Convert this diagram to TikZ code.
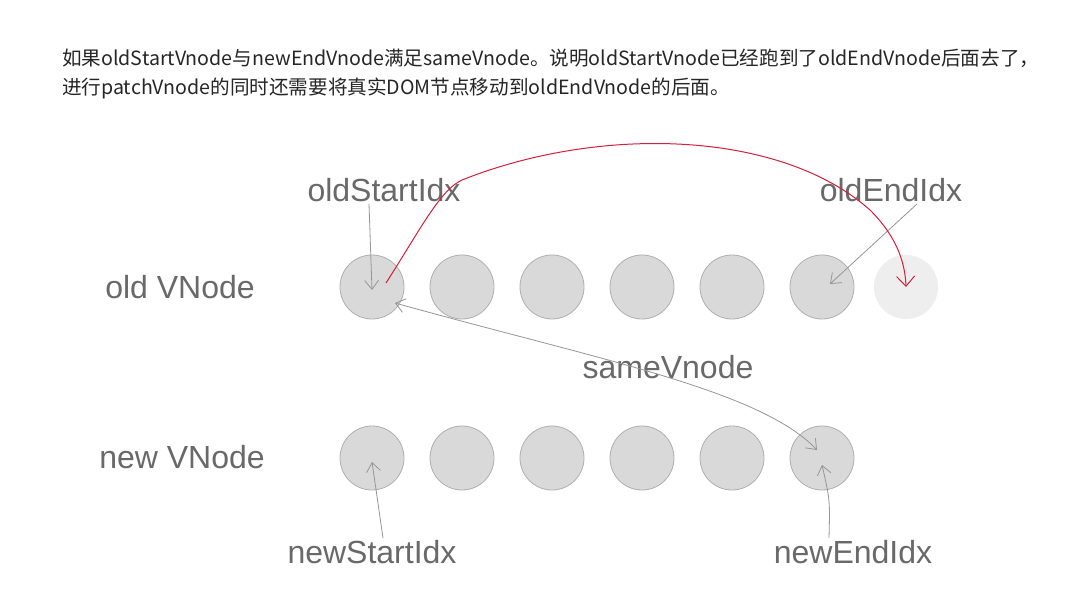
\documentclass[tikz,border=0pt]{standalone}
\usepackage{fontspec}
\setmainfont{Liberation Sans}
\newfontfamily\cjk{Noto Sans CJK SC}
\usetikzlibrary{arrows.meta}
\definecolor{ballfill}{RGB}{217,217,217}
\definecolor{balledge}{RGB}{175,175,175}
\definecolor{ghostfill}{RGB}{238,238,238}
\definecolor{labelgray}{RGB}{105,105,105}
\definecolor{linegray}{RGB}{150,150,150}
\definecolor{movered}{RGB}{215,30,60}

\tikzset{
  ball/.style={circle, fill=ballfill, draw=balledge, line width=0.8pt, minimum size=64pt, inner sep=0pt},
  ghost/.style={circle, fill=ghostfill, minimum size=64pt, inner sep=0pt},
  lbl/.style={text=labelgray, font=\fontsize{32}{36}\selectfont, inner sep=2pt},
  pointer/.style={draw=linegray, line width=0.8pt, -{Straight Barb[length=9pt,width=14pt]}},
}

\begin{document}
\begin{tikzpicture}[x=1pt,y=-1pt]
\useasboundingbox[fill=white] (0,0) rectangle (1068,610);

% header text
\node[anchor=west, inner sep=0pt, text=black!85, font=\cjk\fontsize{19.6}{22}\selectfont] (line1) at (62,58) {如果oldStartVnode与newEndVnode满足sameVnode。说明oldStartVnode已经跑到了oldEndVnode后面去了，};
\node[anchor=west, inner sep=0pt, text=black!85, font=\cjk\fontsize{19.6}{22}\selectfont] (line2) at (62,88) {进行patchVnode的同时还需要将真实DOM节点移动到oldEndVnode的后面。};

% rows
\node[lbl] (oldrow) at (180,287) {old VNode};
\node[lbl] (newrow) at (182,457) {new VNode};
\foreach \i/\x in {1/372,2/462,3/552,4/642,5/732,6/822}{
  \node[ball] (old\i) at (\x,287) {};
  \node[ball] (new\i) at (\x,458) {};
}
\node[ghost] (old7) at (906,287) {};

% index labels
\node[lbl] (oldS) at (384,190) {oldStartIdx};
\node[lbl] (oldE) at (891,190) {oldEndIdx};
\node[lbl] (same) at (668,367) {sameVnode};
\node[lbl] (newS) at (372,552) {newStartIdx};
\node[lbl] (newE) at (853,552) {newEndIdx};

% pointers
\draw[pointer] ([xshift=-15pt]oldS.south) -- ([yshift=-3pt]old1.center);
\draw[pointer] ([xshift=26pt]oldE.south) -- ([shift={(8pt,3pt)}]old6.center);
\draw[pointer] ([xshift=11pt]newS.north) .. controls (378,500) .. ([yshift=-4pt]new1.center);
\draw[pointer] ([xshift=-24pt]newE.north) .. controls (830,500) .. ([yshift=-7pt]new6.center);
\draw[pointer, {Straight Barb[length=9pt,width=14pt]}-{Straight Barb[length=9pt,width=14pt]}]
  ([shift={(23pt,-16pt)}]old1.center) .. controls (600,360) and (760,390) .. ([shift={(-5pt,8pt)}]new6.center);

% move arrow
\draw[movered, line width=1pt, -{Straight Barb[length=10pt,width=18pt]}]
  ([shift={(14pt,4pt)}]old1.center) .. controls (420,230) and (440,190) .. (462,180)
  .. controls (600,125) and (780,130) .. (870,210)
  .. controls (895,235) and (905,260) .. (old7.center);
\end{tikzpicture}
\end{document}
